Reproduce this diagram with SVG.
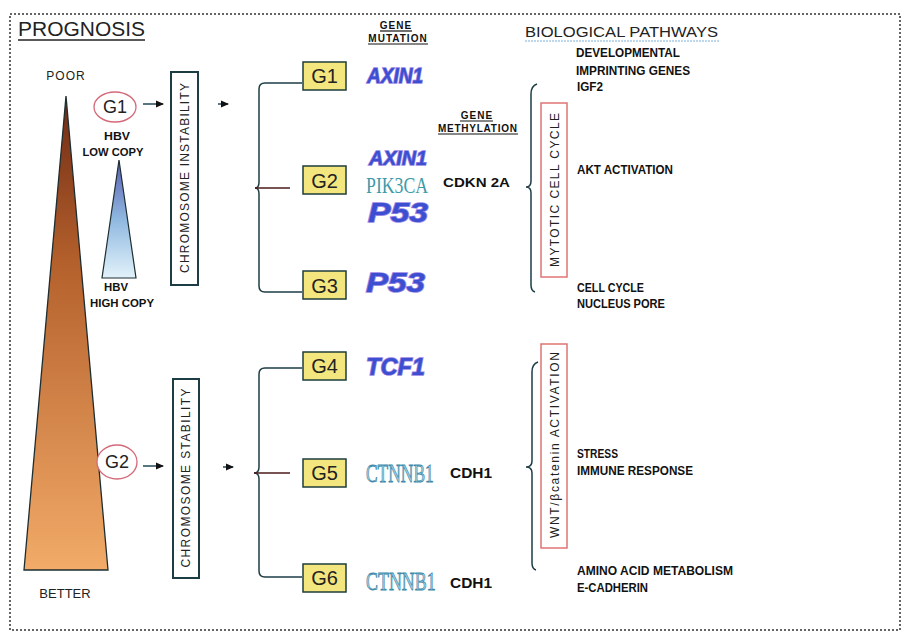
<svg xmlns="http://www.w3.org/2000/svg" width="903" height="634" viewBox="0 0 903 634">
<defs>
<linearGradient id="gBig" x1="0" y1="0" x2="0" y2="1">
<stop offset="0" stop-color="#6e2a14"/>
<stop offset="0.35" stop-color="#b4602c"/>
<stop offset="1" stop-color="#f2ab68"/>
</linearGradient>
<linearGradient id="gSmall" x1="0" y1="0" x2="0" y2="1">
<stop offset="0" stop-color="#5a5cb0"/>
<stop offset="0.5" stop-color="#8fb8e0"/>
<stop offset="1" stop-color="#e2f2fa"/>
</linearGradient>
<marker id="arr" viewBox="0 0 8 8" refX="7" refY="4" markerWidth="8" markerHeight="8" markerUnits="userSpaceOnUse" orient="auto">
<path d="M0,0.5 L8,4 L0,7.5 Z" fill="#111"/>
</marker>
<style>
.lbl{font-family:"Liberation Sans",Arial,sans-serif;fill:#222}
.bold{font-family:"Liberation Sans",Arial,sans-serif;font-weight:bold;fill:#111}
.path{font-family:"Liberation Sans",Arial,sans-serif;font-weight:bold;font-size:12px;fill:#111}
.wa{font-family:"Liberation Sans",Arial,sans-serif;font-weight:bold;font-style:italic;fill:#3b4fd0;stroke:#9a86e6;stroke-width:1.6;paint-order:stroke}
.ser{font-family:"Liberation Serif","Times New Roman",serif}
.ctn{font-family:"Liberation Serif","Times New Roman",serif;font-size:26px;fill:#a8d0e2;stroke:#3a88a8;stroke-width:0.8}
.gbox{fill:#f3e67e;stroke:#1d3d3d;stroke-width:1.5}
.glbl{font-family:"Liberation Sans",Arial,sans-serif;font-size:20px;fill:#222;text-anchor:middle}
.ell{fill:#fff;stroke:#d46a78;stroke-width:1.3}
.cbox{fill:#fff;stroke:#1d3d45;stroke-width:2}
.rbox{fill:#fff;stroke:#e07474;stroke-width:1.5}
.ln{fill:none;stroke:#1d3d45;stroke-width:1.5}
.hd{font-family:"Liberation Sans",Arial,sans-serif;font-weight:bold;font-size:10px;fill:#111;text-anchor:middle;letter-spacing:1px}
.ul{stroke:#111;stroke-width:1.2}
</style>
</defs>
<rect x="10" y="14" width="890" height="616" fill="#fff" stroke="#333" stroke-width="1.5" stroke-dasharray="2,2"/>

<g id="prognosis">
<text class="lbl" x="18" y="36" font-size="21" textLength="127" lengthAdjust="spacingAndGlyphs">PROGNOSIS</text>
<line x1="18" y1="40" x2="145" y2="40" stroke="#222" stroke-width="1.5"/>
</g>

<g id="poor-better">
<text class="lbl" x="66" y="80" font-size="12" text-anchor="middle" letter-spacing="1">POOR</text>
<polygon points="66,96 24,570 108,570" fill="url(#gBig)" stroke="#1d2e30" stroke-width="1.3"/>
<text class="lbl" x="65" y="598" font-size="13" text-anchor="middle">BETTER</text>
</g>

<g id="hbv">
<text class="bold" x="117" y="140" font-size="10" text-anchor="middle" textLength="26" lengthAdjust="spacingAndGlyphs">HBV</text>
<text class="bold" x="113" y="156" font-size="10" text-anchor="middle" textLength="61" lengthAdjust="spacingAndGlyphs">LOW COPY</text>
<polygon points="119,160 102,278 136,278" fill="url(#gSmall)" stroke="#1d2e30" stroke-width="1.2"/>
<text class="bold" x="116" y="291" font-size="10" text-anchor="middle" textLength="24" lengthAdjust="spacingAndGlyphs">HBV</text>
<text class="bold" x="122" y="307" font-size="10" text-anchor="middle" textLength="64" lengthAdjust="spacingAndGlyphs">HIGH COPY</text>
</g>

<g id="g1-circle">
<ellipse class="ell" cx="115" cy="107" rx="21" ry="15"/>
<text class="lbl" x="115" y="113" font-size="18" text-anchor="middle">G1</text>
</g>
<g id="g2-circle">
<ellipse class="ell" cx="117" cy="462" rx="20" ry="17"/>
<text class="lbl" x="117" y="468" font-size="18" text-anchor="middle">G2</text>
</g>

<g id="chrom-instability">
<rect class="cbox" x="171" y="72" width="27" height="213"/>
<text class="lbl" transform="translate(189,178) rotate(-90)" font-size="12" text-anchor="middle" textLength="190" lengthAdjust="spacing">CHROMOSOME INSTABILITY</text>
</g>
<g id="chrom-stability">
<rect class="cbox" x="173" y="379" width="26" height="199"/>
<text class="lbl" transform="translate(190,478) rotate(-90)" font-size="12" text-anchor="middle" textLength="179" lengthAdjust="spacing">CHROMOSOME STABILITY</text>
</g>

<g id="connectors">
<line x1="143" y1="104" x2="163" y2="104" stroke="#204858" stroke-width="1.5" marker-end="url(#arr)"/>
<line x1="218" y1="104" x2="228" y2="104" stroke="#204858" stroke-width="1.5" marker-end="url(#arr)"/>
<line x1="143" y1="466" x2="163" y2="466" stroke="#204858" stroke-width="1.5" marker-end="url(#arr)"/>
<line x1="223" y1="467" x2="233" y2="467" stroke="#204858" stroke-width="1.5" marker-end="url(#arr)"/>
<path class="ln" d="M302,83 L265,83 Q259,83 259,89 L259,182 Q259,188 255,188 Q259,188 259,194 L259,286 Q259,292 265,292 L302,292"/>
<line x1="255" y1="188" x2="290" y2="188" stroke="#4a1a1a" stroke-width="1.5"/>
<path class="ln" d="M302,368 L265,368 Q259,368 259,374 L259,467 Q259,473 254,473 Q259,473 259,479 L259,571 Q259,577 265,577 L302,577"/>
<line x1="254" y1="473" x2="290" y2="473" stroke="#4a1a1a" stroke-width="1.5"/>
<path class="ln" stroke-width="1.2" d="M537,84 Q531,86 531,94 L531,181 Q531,187 526,187 Q531,187 531,193 L531,285 Q531,291 535,292"/>
<path class="ln" stroke-width="1.2" d="M538,362 Q532,364 532,372 L532,461 Q532,467 526,467 Q532,467 532,473 L532,563 Q532,569 536,570"/>
</g>

<g id="G1"><rect class="gbox" x="303" y="62" width="43" height="28"/><text class="glbl" x="324.5" y="83">G1</text></g>
<g id="G2"><rect class="gbox" x="303" y="166" width="43" height="28"/><text class="glbl" x="324.5" y="188">G2</text></g>
<g id="G3"><rect class="gbox" x="303" y="271" width="43" height="28"/><text class="glbl" x="324.5" y="293">G3</text></g>
<g id="G4"><rect class="gbox" x="303" y="352" width="43" height="28"/><text class="glbl" x="324.5" y="373">G4</text></g>
<g id="G5"><rect class="gbox" x="303" y="459" width="43" height="28"/><text class="glbl" x="324.5" y="480">G5</text></g>
<g id="G6"><rect class="gbox" x="303" y="564" width="43" height="28"/><text class="glbl" x="324.5" y="585">G6</text></g>

<g id="header-mutation">
<text class="hd" x="396" y="29">GENE</text>
<line class="ul" x1="380" y1="31" x2="412" y2="31"/>
<text class="hd" x="398" y="42">MUTATION</text>
<line class="ul" x1="368" y1="44" x2="428" y2="44"/>
</g>
<g id="header-methylation">
<text class="hd" x="477" y="119">GENE</text>
<line class="ul" x1="460" y1="121" x2="493" y2="121"/>
<text class="hd" x="478" y="132" textLength="80" lengthAdjust="spacing">METHYLATION</text>
<line class="ul" x1="438" y1="134" x2="518" y2="134"/>
</g>

<g id="genes-g1">
<text class="wa" x="367" y="83" font-size="22" textLength="56" lengthAdjust="spacingAndGlyphs">AXIN1</text>
</g>
<g id="genes-g2">
<text class="wa" x="369" y="165" font-size="21" textLength="58" lengthAdjust="spacingAndGlyphs">AXIN1</text>
<text class="ser" transform="translate(366,193) scale(0.74,1)" font-size="24" fill="#3f9aa8">PIK3CA</text>
<text class="wa" x="368" y="222" font-size="27" textLength="60" lengthAdjust="spacingAndGlyphs">P53</text>
<text class="bold" x="443" y="187" font-size="13" textLength="67" lengthAdjust="spacingAndGlyphs">CDKN 2A</text>
</g>
<g id="genes-g3">
<text class="wa" x="366" y="292" font-size="27" textLength="59" lengthAdjust="spacingAndGlyphs">P53</text>
</g>
<g id="genes-g4">
<text class="wa" x="366" y="375" font-size="23" textLength="59" lengthAdjust="spacingAndGlyphs">TCF1</text>
</g>
<g id="genes-g5">
<text class="ctn" transform="translate(366,482) scale(0.67,1)">CTNNB1</text>
<text class="bold" x="450" y="478" font-size="14" textLength="42" lengthAdjust="spacingAndGlyphs">CDH1</text>
</g>
<g id="genes-g6">
<text class="ctn" transform="translate(366,590) scale(0.69,1)">CTNNB1</text>
<text class="bold" x="450" y="588" font-size="14" textLength="42" lengthAdjust="spacingAndGlyphs">CDH1</text>
</g>

<g id="mitotic">
<rect class="rbox" x="541" y="103" width="26" height="174"/>
<text class="lbl" transform="translate(559,190) rotate(-90)" font-size="12" text-anchor="middle" textLength="154" lengthAdjust="spacing">MYTOTIC CELL CYCLE</text>
</g>
<g id="wnt">
<rect class="rbox" x="541" y="344" width="26" height="204"/>
<text class="lbl" transform="translate(559,445) rotate(-90)" font-size="12" text-anchor="middle" textLength="186" lengthAdjust="spacing">WNT/βcatenin  ACTIVATION</text>
</g>

<g id="pathways-header">
<text class="lbl" x="525" y="37" font-size="15" textLength="193" lengthAdjust="spacingAndGlyphs">BIOLOGICAL PATHWAYS</text>
<line x1="525" y1="41" x2="720" y2="41" stroke="#7ab0d8" stroke-width="1" stroke-dasharray="2,1"/>
</g>
<g id="pathways-g1">
<text class="path" x="576" y="57" textLength="104" lengthAdjust="spacingAndGlyphs">DEVELOPMENTAL</text>
<text class="path" x="576" y="75" textLength="114" lengthAdjust="spacingAndGlyphs">IMPRINTING GENES</text>
<text class="path" x="577" y="91" textLength="26" lengthAdjust="spacingAndGlyphs">IGF2</text>
</g>
<g id="pathways-g2">
<text class="path" x="577" y="174" textLength="96" lengthAdjust="spacingAndGlyphs">AKT ACTIVATION</text>
</g>
<g id="pathways-g3">
<text class="path" x="577" y="292" textLength="67" lengthAdjust="spacingAndGlyphs">CELL CYCLE</text>
<text class="path" x="577" y="308" textLength="88" lengthAdjust="spacingAndGlyphs">NUCLEUS PORE</text>
</g>
<g id="pathways-g5">
<text class="path" x="577" y="458" textLength="41" lengthAdjust="spacingAndGlyphs">STRESS</text>
<text class="path" x="577" y="475" textLength="116" lengthAdjust="spacingAndGlyphs">IMMUNE RESPONSE</text>
</g>
<g id="pathways-g6">
<text class="path" x="577" y="575" textLength="156" lengthAdjust="spacingAndGlyphs">AMINO ACID METABOLISM</text>
<text class="path" x="577" y="592" textLength="71" lengthAdjust="spacingAndGlyphs">E-CADHERIN</text>
</g>
</svg>
